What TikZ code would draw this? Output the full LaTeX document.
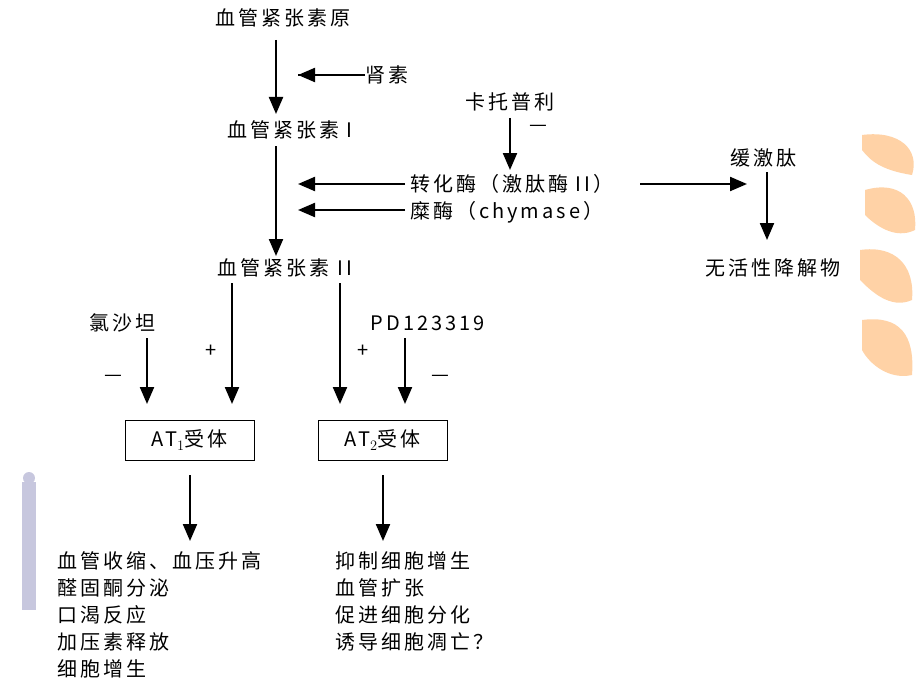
\documentclass[tikz,border=0pt]{standalone}
\usepackage{fontspec}
\setmainfont{Noto Sans CJK SC}[LetterSpace=15]
\usetikzlibrary{arrows.meta}
\begin{document}
\begin{tikzpicture}[x=1pt,y=-1pt,
  t/.style={font=\fontsize{20}{22}\selectfont,inner sep=0pt},
  ar/.style={line width=2.2pt,-{Triangle[width=14pt,length=17pt]}},
  box/.style={draw,line width=1pt,minimum width=129pt,minimum height=40pt,font=\fontsize{20}{22}\selectfont},
  deco1/.style={fill=orange!35,draw=none},
  deco2/.style={fill=blue!25!gray!35,draw=none}]
\useasboundingbox (0,0) rectangle (920,690);
% decorations
\fill[deco1] (862,135) .. controls (900,130) and (920,150) .. (912,175) .. controls (880,170) and (870,160) .. (862,150) -- cycle;
\fill[deco1] (865,190) .. controls (900,180) and (918,200) .. (915,230) .. controls (895,240) and (875,225) .. (865,215) -- cycle;
\fill[deco1] (860,250) .. controls (895,245) and (915,265) .. (912,300) .. controls (890,310) and (870,290) .. (860,280) -- cycle;
\fill[deco1] (862,320) .. controls (900,315) and (915,335) .. (912,375) .. controls (890,380) and (870,365) .. (862,350) -- cycle;
\fill[deco2] (22,482) rectangle (36,610);
\fill[deco2] (29,478) circle (6);
% nodes
\node[t] (ago) at (283,18) {血管紧张素原};
\node[t,anchor=west] (ren) at (365,75) {肾素};
\coordinate (renT) at (298,75);
\node[t] (a1) at (290,130) {血管紧张素 I};
\node[t] (cap) at (510,102) {卡托普利};
\node[t] (capm) at (538,128) {—};
\node[t,anchor=west] (ace) at (410,184) {转化酶（激肽酶 II）};
\node[t,anchor=west] (chy) at (410,212) {糜酶（chymase）};
\node[t] (bk) at (763,158) {缓激肽};
\node[t] (ina) at (773,268) {无活性降解物};
\node[t] (a2) at (285,268) {血管紧张素 II};
\node[t] (los) at (122,323) {氯沙坦};
\node[t] at (113,378) {—};
\node[t] at (211,351) {+};
\node[t] at (363,351) {+};
\node[t] (pd) at (428,323) {PD123319};
\node[t] at (440,378) {—};
\node[box] (at1) at (189.5,440) {AT$_1$受体};
\node[box] (at2) at (382.5,440) {AT$_2$受体};
\node[t,align=left,anchor=north west,font=\fontsize{20}{27}\selectfont] (e1) at (57,551)
 {血管收缩、血压升高\\醛固酮分泌\\口渴反应\\加压素释放\\细胞增生};
\node[t,align=left,anchor=north west,font=\fontsize{20}{27}\selectfont] (e2) at (335,551)
 {抑制细胞增生\\血管扩张\\促进细胞分化\\诱导细胞凋亡？};
\coordinate (capS) at (510,118);
\coordinate (aceW) at (405,184);
\coordinate (aceE) at (640,184);
\coordinate (chyW) at (405,210);
% arrows
\draw[ar] (276,40) -- (276,114);
\draw[line width=2.2pt] (ren.west) -- (298,75);
\draw[ar] (ren.west) ++(-4,0) -- (renT);
\draw[ar] (capS) -- (510,170);
\draw[ar] (276,146) -- (276,256);
\draw[ar] (aceW) -- (298,184);
\draw[ar] (chyW) -- (298,210);
\draw[ar] (aceE) -- (747,184);
\draw[ar] (767,172) -- (767,240);
\draw[ar] (147,338) -- (147,404);
\draw[ar] (232,283) -- (232,404);
\draw[ar] (340,283) -- (340,404);
\draw[ar] (405,338) -- (405,404);
\draw[ar] (190,475) -- (190,541);
\draw[ar] (383,475) -- (383,541);
\end{tikzpicture}
\end{document}
